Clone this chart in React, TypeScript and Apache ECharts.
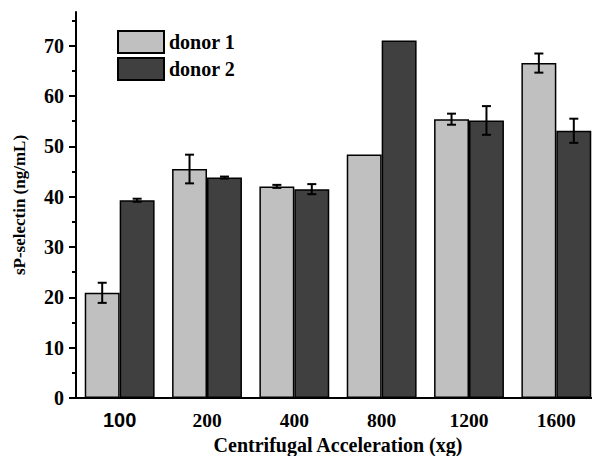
import React, { useEffect, useRef } from "react";
import * as echarts from "echarts";

const categories = ["100", "200", "400", "800", "1200", "1600"];
const donor1 = [20.9, 45.5, 42.05, 48.4, 55.4, 66.55];
const donor1Err = [2.0, 2.85, 0.3, 0, 1.1, 1.9];
const donor2 = [39.3, 43.8, 41.5, 71.05, 55.15, 53.1];
const donor2Err = [0.3, 0.2, 1.0, 0, 2.85, 2.4];
const majorTicks = [0, 10, 20, 30, 40, 50, 60, 70];
const minorTicks = [5, 15, 25, 35, 45, 55, 65, 75];
const seriesNames = ["donor 1", "donor 2"];

const SERIF = "'Liberation Serif', 'Times New Roman', serif";
const SANS = "'Liberation Sans', Arial, sans-serif";
const Y_MAX = 76.7;

function errorSeries(values: number[], errs: number[], side: number) {
  return {
    type: "custom",
    xAxisIndex: 0,
    yAxisIndex: 0,
    silent: true,
    z: 5,
    data: values.map((v, i) => [i, v, errs[i]]),
    renderItem: (params: any, api: any) => {
      const x = api.value(0);
      const v = api.value(1);
      const e = api.value(2);
      if (!e) return null;
      const band = api.size([1, 0])[0];
      const top = api.coord([x, v + e]);
      const bot = api.coord([x, v - e]);
      const cx = top[0] + side * band * 0.2;
      const hw = 4.5;
      const style = { stroke: "#000", lineWidth: 2 };
      return {
        type: "group",
        children: [
          { type: "line", shape: { x1: cx, y1: top[1], x2: cx, y2: bot[1] }, style },
          { type: "line", shape: { x1: cx - hw, y1: top[1], x2: cx + hw, y2: top[1] }, style },
          { type: "line", shape: { x1: cx - hw, y1: bot[1], x2: cx + hw, y2: bot[1] }, style },
        ],
      };
    },
  };
}

export default function App() {
  const ref = useRef<HTMLDivElement>(null);
  useEffect(() => {
    if (!ref.current) return;
    const chart = echarts.init(ref.current, null, { renderer: "svg" });
    const gridPos = { left: 76, right: -8, top: 12, bottom: 58, containLabel: false, outerBoundsMode: "none" };
    chart.setOption({
      animation: false,
      backgroundColor: "#fff",
      grid: [gridPos, { ...gridPos }],
      legend: {
        data: seriesNames,
        orient: "vertical",
        left: 117,
        top: 30,
        padding: 0,
        itemWidth: 46,
        itemHeight: 22,
        itemGap: 3,
        icon: "rect",
        textStyle: { fontFamily: SERIF, fontWeight: "bold", fontSize: 20, color: "#000" },
      },
      xAxis: [
        {
          type: "category",
          gridIndex: 0,
          data: categories,
          name: "Centrifugal Acceleration (xg)",
          nameLocation: "middle",
          nameGap: 36,
          nameTextStyle: { fontFamily: SERIF, fontWeight: "bold", fontSize: 20, color: "#000" },
          axisLine: { lineStyle: { color: "#000", width: 2 } },
          axisTick: { alignWithLabel: false, length: 5, lineStyle: { color: "#000", width: 2 } },
          axisLabel: {
            margin: 12,
            color: "#000",
            fontFamily: SERIF,
            fontWeight: "bold",
            fontSize: 19.5,
            formatter: (v: string, i: number) => (i === 0 ? `{s|${v}}` : v),
            rich: { s: { fontFamily: SANS, fontWeight: "bold", fontSize: 20, color: "#000" } },
          },
          splitLine: { show: false },
        },
        {
          type: "category",
          gridIndex: 1,
          data: categories,
          axisLine: { show: false },
          axisTick: { alignWithLabel: true, length: 7, lineStyle: { color: "#000", width: 2 } },
          axisLabel: { show: false },
          splitLine: { show: false },
        },
      ],
      yAxis: [
        {
          type: "value",
          gridIndex: 0,
          min: 0,
          max: Y_MAX,
          name: "sP-selectin (ng/mL)",
          nameLocation: "middle",
          nameGap: 48,
          nameTextStyle: { fontFamily: SERIF, fontWeight: "bold", fontSize: 17, color: "#000" },
          axisLine: { show: true, lineStyle: { color: "#000", width: 2 } },
          axisTick: { show: true, length: 7, customValues: majorTicks, lineStyle: { color: "#000", width: 2 } },
          axisLabel: {
            customValues: majorTicks,
            margin: 12,
            color: "#000",
            fontFamily: SERIF,
            fontWeight: "bold",
            fontSize: 20,
          },
          splitLine: { show: false },
        },
        {
          type: "value",
          gridIndex: 1,
          min: 0,
          max: Y_MAX,
          axisLine: { show: false },
          axisTick: { show: true, length: 4, customValues: minorTicks, lineStyle: { color: "#000", width: 2 } },
          axisLabel: { show: false },
          splitLine: { show: false },
        },
      ],
      series: [
        {
          name: seriesNames[0],
          type: "bar",
          xAxisIndex: 0,
          yAxisIndex: 0,
          data: donor1,
          barGap: "0%",
          barCategoryGap: "20%",
          itemStyle: { color: "#c0c0c0", borderColor: "#000", borderWidth: 1.5 },
        },
        {
          name: seriesNames[1],
          type: "bar",
          xAxisIndex: 0,
          yAxisIndex: 0,
          data: donor2,
          barGap: "0%",
          barCategoryGap: "20%",
          itemStyle: { color: "#404040", borderColor: "#000", borderWidth: 1.5 },
        },
        errorSeries(donor1, donor1Err, -1),
        errorSeries(donor2, donor2Err, 1),
      ],
    });
    return () => chart.dispose();
  }, []);
  return (
    <div
      ref={ref}
      style={{ position: "fixed", left: 0, top: 0, width: 592, height: 456, background: "#fff" }}
    />
  );
}
